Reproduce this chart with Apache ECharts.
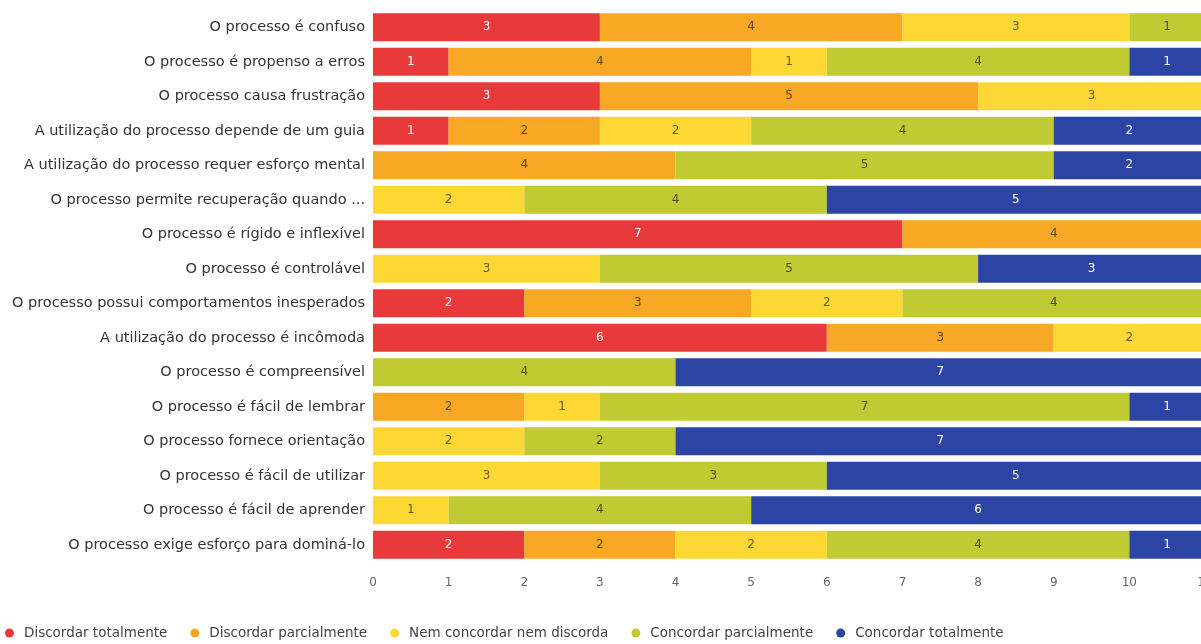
<!DOCTYPE html>
<html>
<head>
<meta charset="utf-8">
<script src="https://cdn.jsdelivr.net/npm/echarts@6/dist/echarts.min.js"></script>
<style>
  html, body { margin: 0; padding: 0; background: #fff; }
  #main { width: 1201px; height: 644px; }
</style>
</head>
<body>
<div id="main"></div>
<script>
// categorias (de cima para baixo)
const categories = [
  "O processo é confuso",
  "O processo é propenso a erros",
  "O processo causa frustração",
  "A utilização do processo depende de um guia",
  "A utilização do processo requer esforço mental",
  "O processo permite recuperação quando ...",
  "O processo é rígido e inflexível",
  "O processo é controlável",
  "O processo possui comportamentos inesperados",
  "A utilização do processo é incômoda",
  "O processo é compreensível",
  "O processo é fácil de lembrar",
  "O processo fornece orientação",
  "O processo é fácil de utilizar",
  "O processo é fácil de aprender",
  "O processo exige esforço para dominá-lo"
];

const seriesNames = [
  "Discordar totalmente",
  "Discordar parcialmente",
  "Nem concordar nem discorda",
  "Concordar parcialmente",
  "Concordar totalmente"
];

const discordarTotal    = [3, 1, 3, 1, 0, 0, 7, 0, 2, 6, 0, 0, 0, 0, 0, 2];
const discordarParcial  = [4, 4, 5, 2, 4, 0, 4, 0, 3, 3, 0, 2, 0, 0, 0, 2];
const nemNem            = [3, 1, 3, 2, 0, 2, 0, 3, 2, 2, 0, 1, 2, 3, 1, 2];
const concordarParcial  = [1, 4, 0, 4, 5, 4, 0, 5, 4, 0, 4, 7, 2, 3, 4, 4];
const concordarTotal    = [0, 1, 0, 2, 2, 5, 0, 3, 0, 0, 7, 1, 7, 5, 6, 1];

const colors = ["#e8393b", "#f9a825", "#fdd835", "#c0ca33", "#2c45a4"];
const labelColors = ["#ffffff", "#5a4a20", "#6a5a20", "#4a5020", "#ffffff"];

const chart = echarts.init(document.getElementById("main"));

const allData = [discordarTotal, discordarParcial, nemNem, concordarParcial, concordarTotal];

const option = {
  animation: false,
  color: colors,
  textStyle: { fontFamily: "DejaVu Sans, sans-serif" },
  grid: { left: 373, top: 10, width: 832, bottom: 82, outerBoundsMode: "none", containLabel: false },
  legend: {
    bottom: 4,
    left: 0,
    padding: [5, 5, 0, 5],
    icon: "circle",
    itemWidth: 19,
    itemHeight: 9,
    itemGap: 23,
    textStyle: { fontSize: 13.5, color: "#444" },
    data: seriesNames
  },
  xAxis: {
    type: "value",
    min: 0,
    max: 11,
    interval: 1,
    axisLine: { show: false },
    axisTick: { show: false },
    splitLine: { show: false },
    axisLabel: { color: "#666", fontSize: 12, margin: 15 }
  },
  yAxis: {
    type: "category",
    inverse: true,
    data: categories,
    axisLine: { show: false },
    axisTick: { show: false },
    axisLabel: { color: "#333", fontSize: 14.5, margin: 8 }
  },
  series: allData.map((d, i) => ({
    name: seriesNames[i],
    type: "bar",
    stack: "total",
    barWidth: 28,
    data: d,
    label: {
      show: true,
      color: labelColors[i],
      fontSize: 12,
      formatter: p => (p.value ? p.value : "")
    }
  }))
};

chart.setOption(option);
</script>
</body>
</html>
